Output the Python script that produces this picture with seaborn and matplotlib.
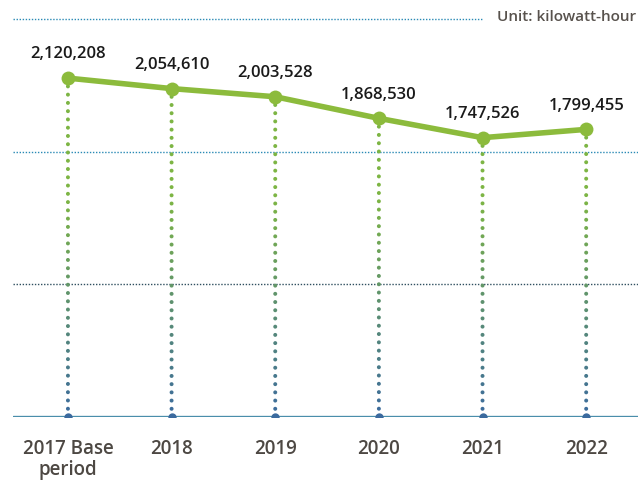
import numpy as np
import pandas as pd
import seaborn as sns
import matplotlib.pyplot as plt
from matplotlib.colors import to_rgb

categories = ["2017 Base\nperiod", "2018", "2019", "2020", "2021", "2022"]
values = [2120208, 2054610, 2003528, 1868530, 1747526, 1799455]
unit_label = "Unit: kilowatt-hour"

sns.set_style("white")
plt.rcParams['font.family'] = ['Open Sans', 'DejaVu Sans']

df = pd.DataFrame({"pos": np.arange(len(categories)), "value": values, "cat": categories})

fig = plt.figure(figsize=(6.38, 4.81), dpi=100)
ax = fig.add_axes([13/638, (481-418)/481, 1 - 13/638, (418-20)/481])

ymax = 2490000
ax.set_ylim(0, ymax)
ax.set_xlim(-0.53, 5.5)

# gridlines at thirds
ax.axhline(ymax/3, color="#2f4f5f", lw=1.0, ls=(0, (1, 1.2)), zorder=1)
ax.axhline(2*ymax/3, color="#2a8ab5", lw=1.0, ls=(0, (1, 1.2)), zorder=1)
ax.plot([-0.53, 4.0], [ymax, ymax], color="#2a8ab5", lw=1.0, ls=(0, (1, 1.2)),
        zorder=1, clip_on=False)
ax.axhline(0, color="#4a8eab", lw=2.4, zorder=2)

# gradient dotted verticals
green = np.array(to_rgb("#7db544"))
blue = np.array(to_rgb("#3b6a9e"))
px_per_val = 398 / ymax
for p, v in zip(df["pos"], df["value"]):
    n = int((v * px_per_val) / 8.2)
    ys = np.linspace(0, v, n + 1)[:-1]
    t = np.clip(ys / (0.55 * ymax), 0, 1)[:, None]
    cols = blue * (1 - t) + green * t
    ax.scatter(np.full_like(ys, p, dtype=float), ys, s=8, c=cols, linewidths=0, zorder=3)
    ax.scatter([p], [0], s=36, c=[blue], linewidths=0, zorder=3, marker="o")

sns.lineplot(data=df, x="pos", y="value", ax=ax, color="#8cbb3c", lw=4.0,
             marker="o", markersize=10, markeredgewidth=0, zorder=5)

for p, v in zip(df["pos"], df["value"]):
    ax.annotate(f"{v:,}", (p, v), xytext=(0, 12), textcoords="offset points",
                ha="center", va="bottom", fontsize=12, fontweight="semibold", color="#1a1a1a")

ax.set_xticks(df["pos"])
ax.set_xticklabels(categories, fontsize=13.5, fontweight="semibold", color="#4d4843",
                   linespacing=1.05)
ax.tick_params(axis="x", length=0, pad=15)
ax.set_yticks([])
ax.set_xlabel("")
ax.set_ylabel("")
for s in ax.spines.values():
    s.set_visible(False)

fig.text(636/638, 1 - 17/481, unit_label, ha="right", va="center", fontsize=11,
         fontweight="semibold", color="#58524d")

fig.savefig("out.png", dpi=100)
